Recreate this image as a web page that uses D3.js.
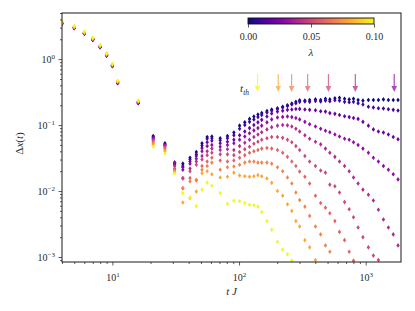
<!DOCTYPE html>
<html>
<head>
<meta charset="utf-8">
<script src="https://cdn.jsdelivr.net/npm/d3@7"></script>
<style>
  html, body { margin: 0; padding: 0; background: #fff; }
  svg text { font-family: "Liberation Serif", "DejaVu Serif", serif; fill: #2a2a2a; }
</style>
</head>
<body>
<div id="chart"></div>
<script>
// sample times, t J
const times = [4, 5, 6, 7, 8, 9, 10, 11, 16,
  21, 26, 31, 36, 41, 46, 51, 56, 61,
  71, 81, 91, 101, 111, 121, 131, 141, 151,
  166, 181, 201, 221, 241, 261, 281, 301,
  331, 361, 401, 441, 481, 521, 571, 621, 681, 741, 801, 871, 951,
  1050, 1150, 1260, 1380, 1510, 1650, 1800];

const lambdas = [0, 0.01, 0.02, 0.03, 0.04, 0.05, 0.06, 0.07, 0.08, 0.1];

// Delta x(t) for each lambda (null = not shown)
const dxLam000 = [3.45, 2.95, 2.42, 1.96, 1.51, 1.13, 0.78, 0.43, 0.215,
  0.068, 0.053, 0.027, 0.026, 0.032, 0.039, 0.053, 0.066, 0.067,
  0.063, 0.068, 0.077, 0.098, 0.11, 0.124, 0.135, 0.145, 0.152,
  0.163, 0.172, 0.18, 0.19, 0.2, 0.212, 0.225, 0.238,
  0.235, 0.24, 0.245, 0.24, 0.25, 0.245, 0.255, 0.26, 0.25, 0.245, 0.25, 0.24, 0.235,
  0.24, 0.24, 0.24, 0.245, 0.24, 0.24, 0.24];
const dxLam001 = [3.47, 2.97, 2.44, 1.97, 1.52, 1.14, 0.79, 0.435, 0.217,
  0.066, 0.051, 0.026, 0.024, 0.03, 0.036, 0.049, 0.062, 0.063,
  0.059, 0.063, 0.07, 0.088, 0.1, 0.112, 0.122, 0.132, 0.142,
  0.155, 0.165, 0.175, 0.185, 0.195, 0.205, 0.215, 0.225,
  0.228, 0.225, 0.232, 0.228, 0.235, 0.23, 0.238, 0.235, 0.225, 0.222, 0.225, 0.215, 0.205,
  0.19, 0.185, 0.18, 0.178, 0.174, 0.17, 0.166];
const dxLam002 = [3.49, 2.99, 2.46, 1.99, 1.53, 1.15, 0.795, 0.44, 0.22,
  0.064, 0.05, 0.025, 0.023, 0.028, 0.034, 0.045, 0.055, 0.058,
  0.053, 0.056, 0.06, 0.07, 0.08, 0.09, 0.1, 0.11, 0.12,
  0.135, 0.15, 0.16, 0.165, 0.17, 0.172, 0.175, 0.176,
  0.172, 0.17, 0.168, 0.162, 0.16, 0.152, 0.148, 0.142, 0.136, 0.132, 0.128, 0.124, 0.112,
  0.098, 0.086, 0.08, 0.077, 0.072, 0.066, 0.061];
const dxLam003 = [3.5, 3.0, 2.47, 2.0, 1.54, 1.155, 0.8, 0.443, 0.222,
  0.062, 0.049, 0.027, 0.021, 0.026, 0.031, 0.04, 0.048, 0.05,
  0.047, 0.05, 0.053, 0.06, 0.067, 0.075, 0.083, 0.09, 0.098,
  0.11, 0.122, 0.13, 0.133, 0.135, 0.132, 0.128, 0.122,
  0.112, 0.103, 0.095, 0.088, 0.082, 0.078, 0.072, 0.067, 0.062, 0.06, 0.055, 0.05, 0.044,
  0.038, 0.032, 0.028, 0.024, 0.021, 0.018, 0.015];
const dxLam004 = [3.52, 3.02, 2.48, 2.01, 1.55, 1.16, 0.805, 0.445, 0.224,
  0.06, 0.048, 0.024, 0.0157, 0.022, 0.028, 0.034, 0.04, 0.044,
  0.042, 0.043, 0.042, 0.048, 0.054, 0.06, 0.066, 0.072, 0.078,
  0.086, 0.093, 0.098, 0.1, 0.099, 0.095, 0.088, 0.08,
  0.07, 0.062, 0.056, 0.051, 0.044, 0.038, 0.033, 0.028, 0.024, 0.02, 0.016, 0.013, 0.0105,
  0.0088, 0.0072, 0.0052, 0.0037, 0.0028, 0.0022, 0.0015];
const dxLam005 = [3.54, 3.04, 2.5, 2.03, 1.565, 1.17, 0.81, 0.45, 0.226,
  0.058, 0.046, 0.022, 0.0155, 0.02, 0.025, 0.03, 0.035, 0.038,
  0.036, 0.036, 0.035, 0.039, 0.043, 0.047, 0.052, 0.056, 0.06,
  0.063, 0.066, 0.066, 0.064, 0.06, 0.055, 0.048, 0.042,
  0.034, 0.028, 0.024, 0.0205, 0.019, 0.0125, 0.0118, 0.0095, 0.0068, 0.0053, 0.004, 0.0028, 0.002,
  0.0014, 0.00105, 0.0009, null, null, null, null];
const dxLam006 = [3.56, 3.06, 2.52, 2.04, 1.575, 1.18, 0.815, 0.453, 0.228,
  0.055, 0.044, 0.021, 0.011, 0.0157, 0.0147, 0.024, 0.028, 0.032,
  0.029, 0.028, 0.029, 0.032, 0.035, 0.038, 0.04, 0.042, 0.044,
  0.045, 0.044, 0.042, 0.038, 0.033, 0.028, 0.024, 0.0197,
  0.0165, 0.013, 0.0085, 0.0066, 0.0056, 0.0046, 0.0035, 0.0024, 0.0018, 0.0012, 0.00088, null, null,
  null, null, null, null, null, null, null];
const dxLam007 = [3.58, 3.08, 2.54, 2.06, 1.585, 1.19, 0.82, 0.456, 0.23,
  0.052, 0.042, 0.02, 0.011, 0.014, 0.0145, 0.021, 0.024, 0.027,
  0.021, 0.023, 0.0235, 0.025, 0.027, 0.028, 0.028, 0.027, 0.027,
  0.027, 0.026, 0.023, 0.02, 0.016, 0.013, 0.0095, 0.0073,
  0.0058, 0.0042, 0.0029, 0.0022, 0.0015, 0.0012, null, null, null, null, null, null, null,
  null, null, null, null, null, null, null];
const dxLam008 = [3.6, 3.1, 2.56, 2.08, 1.6, 1.2, 0.83, 0.46, 0.232,
  0.05, 0.04, 0.019, 0.0067, 0.0078, 0.0098, 0.0186, 0.02, 0.018,
  0.016, 0.0165, 0.019, 0.0172, 0.0168, 0.0165, 0.0168, 0.0174, 0.0168,
  0.0155, 0.0133, 0.01, 0.0085, 0.0063, 0.005, 0.0035, 0.0029,
  0.0018, 0.0014, 0.0009, null, null, null, null, null, null, null, null, null, null,
  null, null, null, null, null, null, null];
const dxLam010 = [3.65, 3.15, 2.6, 2.1, 1.62, 1.22, 0.85, 0.47, 0.235,
  0.047, 0.037, 0.0186, 0.0093, 0.008, 0.0059, 0.0105, 0.0134, 0.012,
  0.0093, 0.0064, 0.0071, 0.007, 0.0066, 0.0062, 0.0061, 0.0058, 0.0048,
  0.0035, 0.0026, 0.0017, 0.0013, 0.0011, 0.00088, null, null,
  null, null, null, null, null, null, null, null, null, null, null, null, null,
  null, null, null, null, null, null, null];

const seriesValues = [dxLam000, dxLam001, dxLam002, dxLam003, dxLam004,
  dxLam005, dxLam006, dxLam007, dxLam008, dxLam010];

// thermalisation-time arrows
const arrowTimes = [140, 204, 260, 348, 508, 828, 1680];
const arrowLambdas = [0.1, 0.08, 0.07, 0.06, 0.05, 0.04, 0.03];

const xMajorTicks = [10, 100, 1000];
const xTickExponents = ["1", "2", "3"];
const yMajorTicks = [1e-3, 1e-2, 1e-1, 1];
const yTickExponents = ["\u22123", "\u22122", "\u22121", "0"];
const colorbarTicks = [0, 0.05, 0.1];
const colorbarLabels = ["0.00", "0.05", "0.10"];

(function (d3) {
  "use strict";

  const width = 415, height = 311;
  const plot = {left: 62, right: 401, top: 13, bottom: 262};
  const serif = "'Liberation Serif', 'DejaVu Serif', serif";

  const x = d3.scaleLog().domain([4, 1900]).range([plot.left, plot.right]);
  const y = d3.scaleLog().domain([8.4e-4, 5]).range([plot.bottom, plot.top]);
  const color = d3.scaleSequential(d3.interpolatePlasma).domain([0, 0.1]);

  const svg = d3.select("#chart").append("svg")
      .attr("width", width)
      .attr("height", height);

  svg.append("defs").append("clipPath")
      .attr("id", "plot-clip")
    .append("rect")
      .attr("x", plot.left).attr("y", plot.top)
      .attr("width", plot.right - plot.left)
      .attr("height", plot.bottom - plot.top);

  // ---- axes ----
  const xMinor = x.ticks().filter(t => xMajorTicks.indexOf(t) < 0);
  const yMinor = y.ticks().filter(t => yMajorTicks.every(m => Math.abs(m - t) / m > 1e-6));

  svg.append("g")
      .attr("transform", `translate(0,${plot.bottom})`)
      .call(d3.axisBottom(x).tickValues(xMinor).tickSize(2).tickFormat(""))
      .call(g => g.select(".domain").remove());
  const xMajor = svg.append("g")
      .attr("transform", `translate(0,${plot.bottom})`)
      .call(d3.axisBottom(x).tickValues(xMajorTicks).tickSize(3.5).tickFormat(""))
      .call(g => g.select(".domain").remove());
  svg.append("g")
      .attr("transform", `translate(${plot.left},0)`)
      .call(d3.axisLeft(y).tickValues(yMinor).tickSize(2).tickFormat(""))
      .call(g => g.select(".domain").remove());
  const yMajor = svg.append("g")
      .attr("transform", `translate(${plot.left},0)`)
      .call(d3.axisLeft(y).tickValues(yMajorTicks).tickSize(3.5).tickFormat(""))
      .call(g => g.select(".domain").remove());

  svg.selectAll(".tick line").attr("stroke", "#333").attr("stroke-width", 0.8);

  // power-of-ten labels
  xMajor.selectAll(".tick").each(function (d, i) {
    const t = d3.select(this).append("text")
        .attr("y", 18.5)
        .attr("text-anchor", "middle")
        .attr("font-size", 10)
        .style("font-family", serif)
        .style("fill", "#2a2a2a");
    t.append("tspan").text("10");
    t.append("tspan").attr("dy", -4).attr("font-size", 7).text(xTickExponents[i]);
  });
  yMajor.selectAll(".tick").each(function (d, i) {
    const t = d3.select(this).append("text")
        .attr("x", -7)
        .attr("y", 3.5)
        .attr("text-anchor", "end")
        .attr("font-size", 10)
        .style("font-family", serif)
        .style("fill", "#2a2a2a");
    t.append("tspan").text("10");
    t.append("tspan").attr("dy", -4).attr("font-size", 7).text(yTickExponents[i]);
  });

  // axis labels
  const xl = svg.append("text")
      .attr("x", (plot.left + plot.right) / 2)
      .attr("y", 295)
      .attr("text-anchor", "middle")
      .attr("font-size", 11);
  xl.append("tspan").attr("font-style", "italic").text("t");
  xl.append("tspan").text(" ");
  xl.append("tspan").attr("font-style", "italic").text("J");

  const yl = svg.append("text")
      .attr("transform", `translate(23,${(plot.top + plot.bottom) / 2 + 6}) rotate(-90)`)
      .attr("text-anchor", "middle")
      .attr("font-size", 11);
  yl.append("tspan").text("\u0394");
  yl.append("tspan").attr("font-style", "italic").text("x");
  yl.append("tspan").text("(");
  yl.append("tspan").attr("font-style", "italic").text("t");
  yl.append("tspan").text(")");

  // ---- data points ----
  const diamond = "M0,-2.3L1.7,0L0,2.3L-1.7,0Z";
  const points = svg.append("g").attr("clip-path", "url(#plot-clip)");

  seriesValues.forEach(function (vals, s) {
    const data = times.map((t, i) => ({t: t, v: vals[i]})).filter(d => d.v !== null);
    points.append("g")
        .attr("fill", color(lambdas[s]))
      .selectAll("path")
        .data(data)
        .enter()
        .append("path")
          .attr("d", diamond)
          .attr("transform", d => `translate(${x(d.t)},${y(d.v)})`);
  });

  // ---- arrows marking t_th ----
  const arrows = svg.append("g").attr("opacity", 0.75);
  arrowTimes.forEach(function (t, i) {
    const ax = x(t);
    const c = color(arrowLambdas[i]);
    arrows.append("line")
        .attr("x1", ax).attr("x2", ax)
        .attr("y1", 74).attr("y2", 87)
        .attr("stroke", c)
        .attr("stroke-width", 1.2);
    arrows.append("path")
        .attr("d", `M${ax - 2.8},86L${ax + 2.8},86L${ax},92Z`)
        .attr("fill", c);
  });

  const tth = svg.append("text")
      .attr("x", 249)
      .attr("y", 92)
      .attr("text-anchor", "end")
      .attr("font-size", 11)
      .attr("font-style", "italic");
  tth.append("tspan").text("t");
  tth.append("tspan").attr("dy", 2.5).attr("font-size", 7.5).text("th");

  // frame
  svg.append("rect")
      .attr("x", plot.left).attr("y", plot.top)
      .attr("width", plot.right - plot.left)
      .attr("height", plot.bottom - plot.top)
      .attr("fill", "none")
      .attr("stroke", "#1a1a1a")
      .attr("stroke-width", 1);

  // ---- colour bar ----
  const cb = {x: 248, y: 18, w: 126, h: 6};
  const cbScale = d3.scaleLinear().domain([0, 0.1]).range([cb.x, cb.x + cb.w]);
  const grad = svg.select("defs").append("linearGradient")
      .attr("id", "plasma-grad");
  d3.range(0, 1.0001, 0.1).forEach(function (o) {
    grad.append("stop")
        .attr("offset", o)
        .attr("stop-color", d3.interpolatePlasma(o));
  });
  svg.append("rect")
      .attr("x", cb.x).attr("y", cb.y)
      .attr("width", cb.w).attr("height", cb.h)
      .attr("fill", "url(#plasma-grad)")
      .attr("stroke", "#111")
      .attr("stroke-width", 0.9);

  const cbAxis = svg.append("g")
      .attr("transform", `translate(0,${cb.y + cb.h})`)
      .call(d3.axisBottom(cbScale).tickValues(colorbarTicks).tickSize(3.5)
          .tickFormat((d, i) => colorbarLabels[i]))
      .call(g => g.select(".domain").remove())
      .attr("font-family", null);
  cbAxis.selectAll(".tick line").attr("stroke", "#333").attr("stroke-width", 0.8);
  cbAxis.selectAll(".tick text")
      .attr("y", 9)
      .attr("font-size", 10)
      .style("font-family", serif)
      .style("fill", "#2a2a2a");

  svg.append("text")
      .attr("x", cb.x + cb.w / 2)
      .attr("y", 56)
      .attr("text-anchor", "middle")
      .attr("font-size", 11)
      .attr("font-style", "italic")
      .text("\u03bb");
})(d3);
</script>
</body>
</html>
